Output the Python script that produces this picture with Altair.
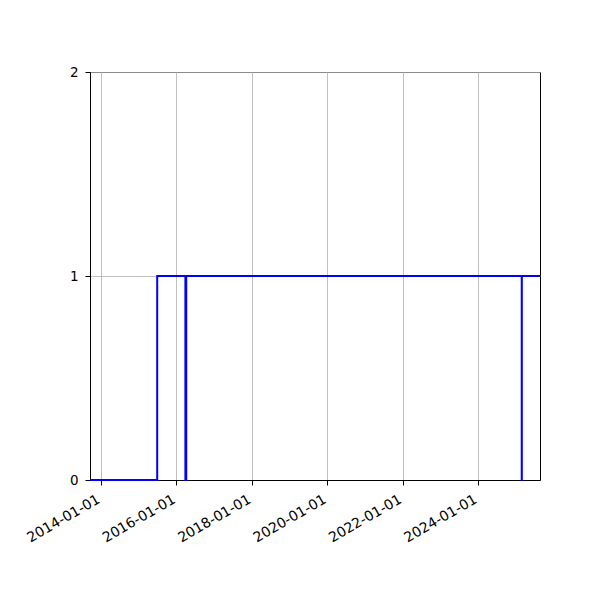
import altair as alt
import pandas as pd

dates = ["2013-09-16", "2015-06-29", "2016-03-28", "2016-04-05",
         "2025-02-27", "2025-02-28", "2025-08-23"]
values = [0, 1, 0, 1, 0, 1, 1]
tick_years = [2014, 2016, 2018, 2020, 2022, 2024]

df = pd.DataFrame({"date": dates, "value": values})

FONT = "DejaVu Sans"

x = alt.X(
    "date:T",
    scale=alt.Scale(
        type="utc",
        domain=[alt.DateTime(year=2013, month=9, date=16, utc=True),
                alt.DateTime(year=2025, month=8, date=23, utc=True)],
        nice=False,
    ),
    axis=alt.Axis(
        values=[alt.DateTime(year=y, month=1, date=1, utc=True) for y in tick_years],
        format="%Y-%m-%d",
        labelAngle=330,
        labelAlign="right",
        labelBaseline="top",
        labelPadding=7,
        labelOffset=-6,
        labelFontSize=14,
        labelOverlap=False,
        title=None,
        grid=True,
    ),
)
y = alt.Y(
    "value:Q",
    scale=alt.Scale(domain=[0, 2], nice=False, zero=True),
    axis=alt.Axis(tickCount=2, format="d", title=None, grid=True,
                  labelPadding=7, labelFontSize=13.5, labelOverlap=False),
)

chart = (
    alt.Chart(df)
    .mark_line(interpolate="step-after", color="#0000ff", strokeWidth=2)
    .encode(x=x, y=y)
    .properties(
        width=450,
        height=408,
        autosize=alt.AutoSizeParams(type="none"),
        padding={"left": 82, "top": 64, "right": 52, "bottom": 112},
    )
    .configure_view(stroke="black", strokeWidth=1)
    .configure_axis(
        domainColor="black",
        domainWidth=1,
        tickColor="black",
        tickSize=5,
        tickWidth=1,
        labelFont=FONT,
        labelColor="black",
        gridColor="#b0b0b0",
        gridWidth=0.8,
    )
)

chart.save("out.html", embed_options={"renderer": "svg", "actions": False})
